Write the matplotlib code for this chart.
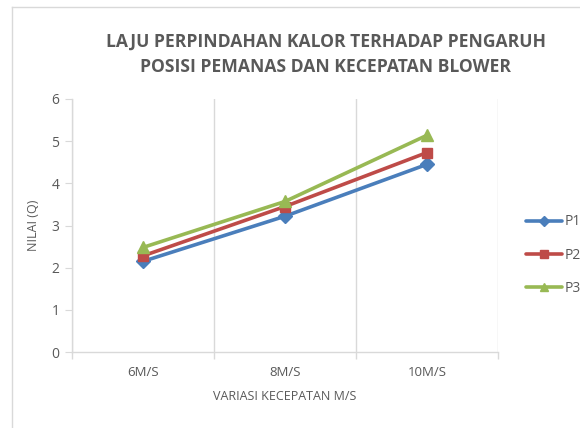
import matplotlib
matplotlib.use("Agg")
import matplotlib.pyplot as plt
from matplotlib.lines import Line2D

categories = ["6M/S", "8M/S", "10M/S"]
p1 = [2.15, 3.22, 4.45]
p2 = [2.28, 3.45, 4.73]
p3 = [2.48, 3.57, 5.14]
series_names = ["P1", "P2", "P3"]
yticks = [0, 1, 2, 3, 4, 5, 6]

plt.rcParams['font.family'] = ['Open Sans', 'DejaVu Sans']

fig = plt.figure(figsize=(5.8, 4.28), dpi=100)
ax = fig.add_axes([72/580, 1-352/428, (498-72)/580, (352-99)/428])

x = list(range(len(categories)))
colors = ["#4A7EBB", "#BE4B48", "#98B954"]
markers = ["D", "s", "^"]
msizes = [7, 7, 8]
for vals, c, m, ms, name in zip([p1, p2, p3], colors, markers, msizes, series_names):
    ax.plot(x, vals, color=c, lw=2.6, marker=m, ms=ms, label=name, solid_capstyle='round')

ax.set_xlim(-0.5, 2.5)
ax.set_ylim(0, 6)
ax.set_yticks(yticks)
ax.set_xticks(x)
ax.set_xticklabels(categories)
ax.set_xticks([-0.5, 0.5, 1.5, 2.5], minor=True)
ax.tick_params(axis='x', which='major', length=0, pad=10, labelsize=9.5, labelcolor='#595959')
ax.tick_params(axis='x', which='minor', length=5, color='#D9D9D9', width=1)
ax.tick_params(axis='y', length=5, color='#D9D9D9', labelsize=10, labelcolor='#595959', pad=4)
ax.grid(True, axis='x', which='minor', color='#D9D9D9', lw=1)
for s in ['top', 'right']:
    ax.spines[s].set_visible(False)
ax.spines['left'].set_color('#D9D9D9')
ax.spines['bottom'].set_color('#D9D9D9')
ax.spines['left'].set_linewidth(1)
ax.spines['bottom'].set_linewidth(1)

ax.set_xlabel("VARIASI KECEPATAN M/S", fontsize=9, color='#595959', labelpad=8)
ax.set_ylabel("NILAI (Q)", fontsize=9, color='#595959', labelpad=8)

fig.text(326/580, 1-42/428, "LAJU PERPINDAHAN KALOR TERHADAP PENGARUH",
         ha='center', va='center', fontsize=12.6, fontweight='bold', color='#595959')
fig.text(326/580, 1-67/428, "POSISI PEMANAS DAN KECEPATAN BLOWER",
         ha='center', va='center', fontsize=12.6, fontweight='bold', color='#595959')

handles, labels = ax.get_legend_handles_labels()
leg = fig.legend(handles, labels, loc='center left', bbox_to_anchor=(519/580, 1-255/428),
                 frameon=False, fontsize=10, labelspacing=1.3, handlelength=2.6,
                 handletextpad=0.15, borderpad=0, markerscale=0.75)
for t in leg.get_texts():
    t.set_color('#595959')

# chart border lines
fig.add_artist(Line2D([12/580, 12/580], [0, 1-7/428], color='#D9D9D9', lw=1, transform=fig.transFigure))
fig.add_artist(Line2D([12/580, 1], [1-7/428, 1-7/428], color='#D9D9D9', lw=1, transform=fig.transFigure))

fig.savefig("out.png", dpi=100)
